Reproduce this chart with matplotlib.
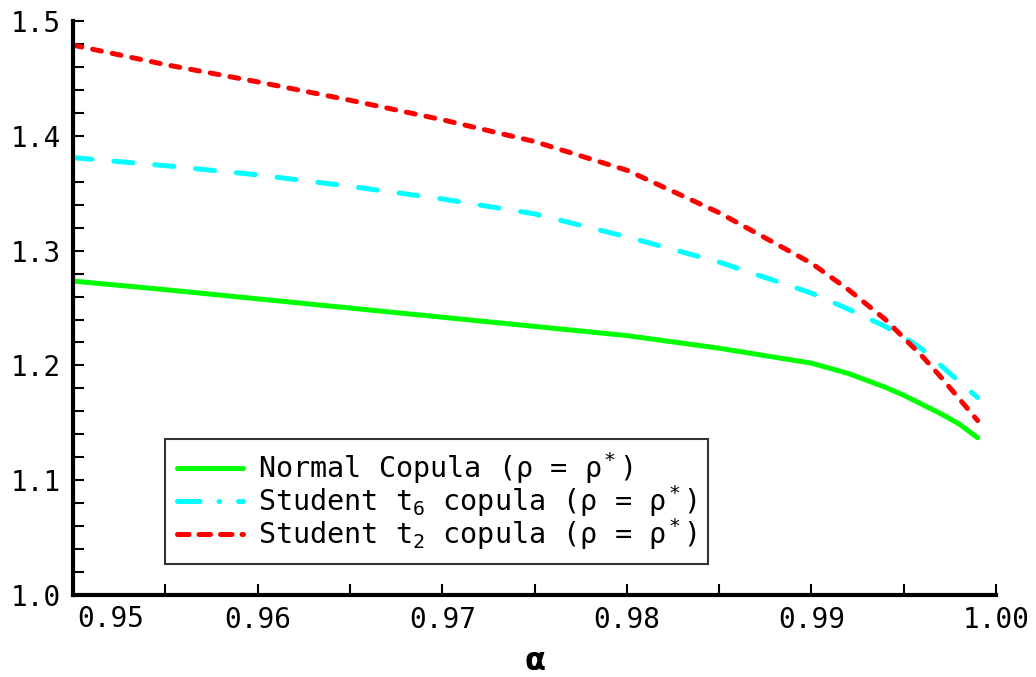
import matplotlib
matplotlib.use("Agg")
import matplotlib.pyplot as plt
from matplotlib.lines import Line2D
from matplotlib.ticker import MultipleLocator, FuncFormatter, FormatStrFormatter

plt.rcParams["font.family"] = ["DejaVu Sans Mono", "DejaVu Sans"]
plt.rcParams["mathtext.fontset"] = "custom"
plt.rcParams["mathtext.rm"] = "DejaVu Sans Mono"
plt.rcParams["mathtext.it"] = "DejaVu Sans Mono:italic"
plt.rcParams["mathtext.bf"] = "DejaVu Sans:bold"

# values
alpha = [0.950, 0.955, 0.960, 0.965, 0.970, 0.975, 0.980, 0.985, 0.990,
         0.992, 0.994, 0.995, 0.996, 0.997, 0.998, 0.999]
normal = [1.2735, 1.266, 1.258, 1.250, 1.242, 1.234, 1.226, 1.215, 1.202,
          1.193, 1.181, 1.174, 1.166, 1.158, 1.149, 1.137]
t6 = [1.381, 1.374, 1.366, 1.356, 1.345, 1.332, 1.312, 1.290, 1.263,
      1.249, 1.234, 1.225, 1.214, 1.200, 1.186, 1.172]
t2 = [1.479, 1.462, 1.447, 1.431, 1.414, 1.395, 1.370, 1.333, 1.289,
      1.266, 1.240, 1.224, 1.208, 1.190, 1.171, 1.152]
labels = ["Normal Copula (ρ = ρ$^*$)",
          "Student t$_6$ copula (ρ = ρ$^*$)",
          "Student t$_2$ copula (ρ = ρ$^*$)"]
x_min, x_max = 0.95, 1.0

GREEN, CYAN, RED = "#00ff00", "#00ffff", "#ff0000"
LW = 3.6

fig = plt.figure(figsize=(10.36, 6.77), dpi=100)
ax = fig.add_axes([0.0705, 0.121, 0.891, 0.848])

ax.plot(alpha, normal, color=GREEN, lw=LW, solid_capstyle="round")
ax.plot(alpha, t6, color=CYAN, lw=LW, ls=(0, (3.8, 4.4)), dash_capstyle="round")
ax.plot(alpha, t2, color=RED, lw=LW, ls=(0, (1.8, 2.2)), dash_capstyle="round")

ax.set_xlim(x_min, x_max)
ax.set_ylim(1.0, 1.5)
ax.xaxis.set_major_locator(MultipleLocator(0.01))
ax.xaxis.set_minor_locator(MultipleLocator(0.005))
ax.yaxis.set_major_locator(MultipleLocator(0.1))
ax.yaxis.set_minor_locator(MultipleLocator(0.02))
# the first x label is drawn separately, left-aligned next to the y axis
ax.xaxis.set_major_formatter(FuncFormatter(
    lambda v, p: "" if abs(v - x_min) < 1e-9 else f"{v:.2f}"))
ax.yaxis.set_major_formatter(FormatStrFormatter("%.1f"))

for s in ["top", "right"]:
    ax.spines[s].set_visible(False)
for s in ["left", "bottom"]:
    ax.spines[s].set_linewidth(3)
ax.tick_params(which="both", direction="in", length=8, width=1.5, labelsize=20)
ax.tick_params(axis="x", pad=8)
ax.tick_params(axis="y", pad=9)

ax.annotate(f"{x_min:.2f}", xy=(0, 0), xycoords="axes fraction",
            xytext=(3, -7), textcoords="offset points",
            ha="left", va="top", fontsize=20)

ax.set_xlabel(r"$\mathbf{\alpha}$", fontsize=22, labelpad=9)

handles = [
    Line2D([], [], color=GREEN, lw=LW, solid_capstyle="round"),
    Line2D([], [], color=CYAN, lw=LW, ls=(0, (4.5, 3.8, 0.1, 3.8)), dash_capstyle="round"),
    Line2D([], [], color=RED, lw=LW, ls=(0, (2.3, 2.0)), dash_capstyle="round"),
]
leg = ax.legend(handles, labels, loc="lower left", bbox_to_anchor=(0.1, 0.055),
                borderaxespad=0, fontsize=20.5, frameon=True, fancybox=False,
                handlelength=2.3, handletextpad=0.54, labelspacing=-0.11,
                borderpad=0.41)
leg.get_frame().set_edgecolor("black")
leg.get_frame().set_linewidth(1.5)

fig.savefig("out.png", dpi=100)
